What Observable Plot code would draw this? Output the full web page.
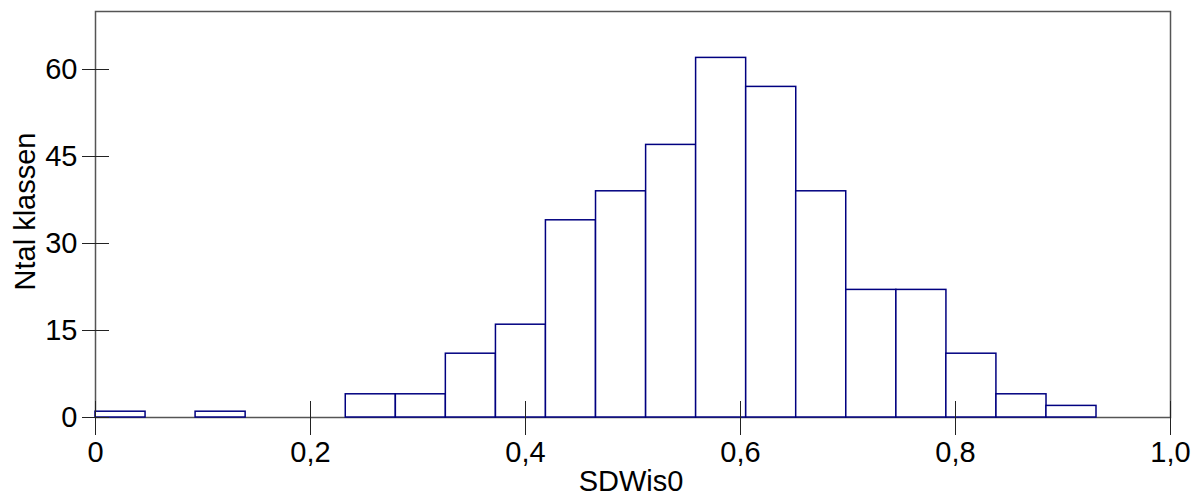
<!DOCTYPE html>
<html>
<head>
<meta charset="utf-8">
<script src="https://cdn.jsdelivr.net/npm/d3@7"></script>
<script src="https://cdn.jsdelivr.net/npm/@observablehq/plot@0.6"></script>
<style>
  html, body { margin: 0; padding: 0; background: #fff; }
</style>
</head>
<body>
<div id="chart"></div>
<script>
// Histogram of SDWis0: lower bin edges and counts (bin width)
const binWidth = 0.04656;
const binStarts = [0, 0.0931, 0.2328, 0.2794, 0.3259, 0.3725, 0.4190, 0.4656, 0.5122, 0.5587, 0.6053, 0.6518, 0.6984, 0.7450, 0.7915, 0.8381, 0.8846];
const counts    = [1, 1, 4, 4, 11, 16, 34, 39, 47, 62, 57, 39, 22, 22, 11, 4, 2];
const xTicks = [0, 0.2, 0.4, 0.6, 0.8, 1.0];
const yTicks = [0, 15, 30, 45, 60];
const xLabel = "SDWis0";
const yLabel = "Ntal klassen";

const bins = binStarts.map((lo, i) => ({lo, hi: lo + binWidth, count: counts[i]}));
const fmt = d => d === 0 ? "0" : d.toFixed(1).replace(".", ",");

const font = "'Liberation Sans', Arial, sans-serif";
const fs = 29;
const chart = Plot.plot({
  width: 1197,
  height: 497,
  marginLeft: 95,
  marginRight: 27,
  marginTop: 11,
  marginBottom: 80,
  style: {fontFamily: font, fontSize: fs + "px", color: "#000", background: "#fff"},
  x: {domain: [0, 1]},
  y: {domain: [0, 70]},
  marks: [
    Plot.frame({stroke: "#555", strokeWidth: 1.5}),
    Plot.rectY(bins, {x1: "lo", x2: "hi", y: "count", fill: "#fff", stroke: "#000080", strokeWidth: 1.5}),
    // x axis: outward part with labels, inward part without
    Plot.axisX({ticks: xTicks, tickFormat: fmt, tickSize: 18, tickPadding: 6, label: null, stroke: "#222", fontSize: fs}),
    Plot.axisX({ticks: xTicks, text: null, tickSize: 16, dy: -16, label: null, stroke: "#222"}),
    // y axis: outward part with labels, inward part without
    Plot.axisY({ticks: yTicks, tickSize: 13, tickPadding: 5, label: null, stroke: "#222", fontSize: fs}),
    Plot.axisY({ticks: yTicks, text: null, tickSize: 14, dx: 14, label: null, stroke: "#222"}),
    Plot.text([xLabel], {frameAnchor: "bottom", textAnchor: "middle", lineAnchor: "bottom", dx: -2, dy: 73, fontSize: fs, fill: "#000"}),
    Plot.text([yLabel], {frameAnchor: "left", textAnchor: "middle", rotate: -90, lineAnchor: "bottom", dx: -61, dy: -3, fontSize: fs, fill: "#000"})
  ]
});
document.getElementById("chart").appendChild(chart);
</script>
</body>
</html>
